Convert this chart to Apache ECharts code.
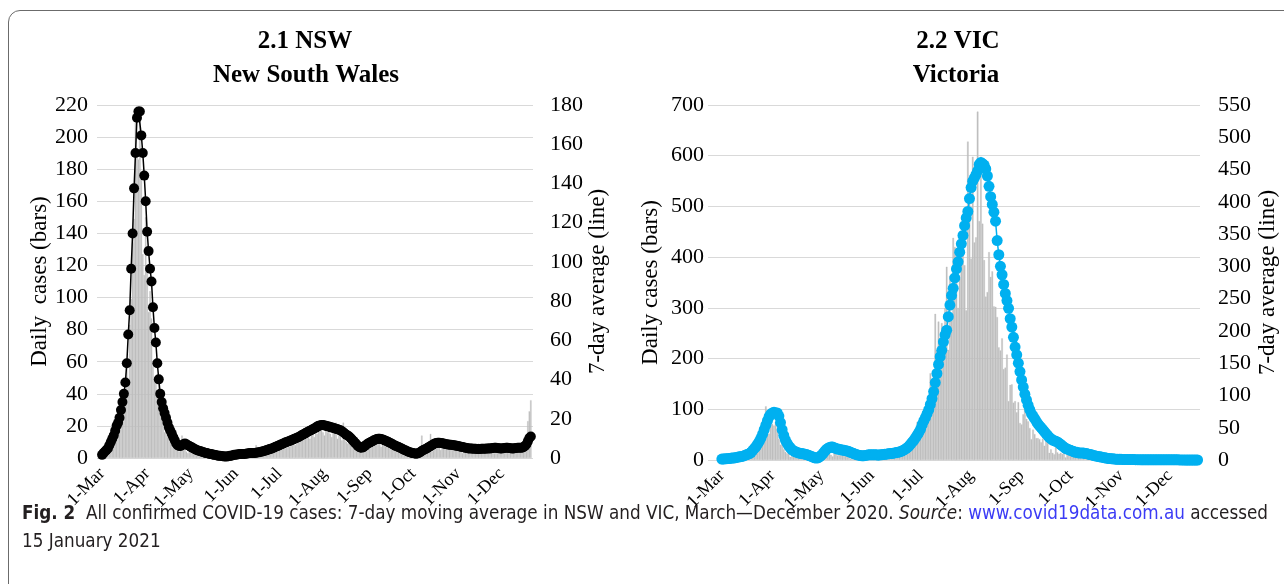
<!DOCTYPE html>
<html>
<head>
<meta charset="utf-8">
<script src="https://cdn.jsdelivr.net/npm/echarts@6/dist/echarts.min.js"></script>
<style>
html,body{margin:0;padding:0;background:#fff;width:1284px;height:584px;overflow:hidden;}
#frame{position:absolute;left:8px;top:10px;width:1320px;height:600px;border:1.5px solid #6b6b6b;border-radius:12px;box-sizing:border-box;}
#chart{position:absolute;left:0;top:0;width:1284px;height:584px;}
#cap{position:absolute;left:22px;top:498px;font-family:'Liberation Sans Narrow','DejaVu Sans Condensed','Noto Sans',sans-serif;font-size:19px;line-height:28px;color:#231f20;white-space:nowrap;}
#cap b{font-weight:bold;}
#cap .lnk{color:#3b3bf5;}
</style>
</head>
<body>
<div id="frame"></div>
<div id="chart"></div>
<div id="cap"><span id="cap1"><b>Fig. 2</b>&nbsp; All confirmed COVID-19 cases: 7-day moving average in NSW and VIC, March—December 2020. <i>Source</i>: <span class="lnk">www.covid19data.com.au</span> accessed</span><br>15 January 2021</div>
<script>
// ---------- DATA (daily from 1 March 2020) ----------
const nswDaily = [
  1,2,3,4,4,6,8,9,12,13,15,20,24,28,34,35,40,62,46,83,99,134,149,211,190,186,212,174,127,114,150,
  116,91,104,87,57,49,48,39,49,35,29,24,16,31,13,18,12,10,9,6,8,6,4,7,14,9,6,4,3,6,
  6,7,5,5,4,5,3,4,2,3,4,2,3,2,2,3,1,2,2,1,1,1,0,1,1,1,1,1,2,1,3,
  2,1,3,2,1,3,2,1,4,2,3,2,3,4,8,3,2,5,3,4,3,4,6,3,5,6,4,8,5,7,
  6,8,7,9,6,10,8,7,13,9,10,8,12,14,10,11,13,15,12,14,16,12,14,16,13,18,15,20,17,19,16,
  14,18,16,18,15,13,17,20,22,12,19,15,11,22,13,10,9,14,12,8,10,7,9,5,4,6,3,7,5,9,8,
  6,10,7,11,9,8,12,10,7,11,9,13,8,7,10,6,9,8,5,7,6,4,7,5,3,6,2,4,3,2,
  1,3,2,4,1,2,14,5,4,6,5,8,15,4,9,8,6,8,10,5,7,12,6,8,9,5,7,8,6,5,9,
  7,5,6,3,8,4,5,6,3,7,4,5,6,3,9,4,5,6,4,3,5,7,4,6,5,3,6,4,7,5,
  5,6,4,7,5,6,4,5,6,3,5,7,4,6,5,4,8,14,23,29,36
];
const nswAverage = [
  1.6,2.5,3.3,4.1,4.9,6.5,8.2,9.8,11.5,13.9,16.4,18,20.5,24.5,28.6,32.7,38.5,48.3,63,75.3,96.5,114.5,137.5,155.5,173.5,176.7,176.7,164.5,155.5,144,130.9,
  115.4,105.5,96.5,90,76.9,66.3,58.9,48.3,40.1,32.7,28.6,25.4,22.9,20.5,18,15.5,13.9,12.3,10.6,9,7.4,6.5,6.1,6.1,6.5,7,7.4,7,6.5,6.1,
  5.7,5.3,4.9,4.5,4.1,3.8,3.6,3.4,3.1,2.9,2.6,2.5,2.3,2.1,2,1.8,1.6,1.5,1.3,1.2,1.1,1,0.9,0.8,0.8,0.8,0.9,1.1,1.2,1.4,1.6,
  1.7,1.8,1.9,2,2,2,2.1,2.2,2.3,2.4,2.5,2.5,2.5,2.6,2.7,2.8,2.9,3.1,3.3,3.4,3.7,3.9,4.2,4.4,4.7,4.9,5.2,5.6,5.9,6.2,
  6.5,6.9,7.2,7.5,7.9,8.2,8.4,8.7,9,9.3,9.7,10,10.3,10.6,11,11.5,11.9,12.3,12.7,13.1,13.5,13.9,14.3,14.7,15.1,15.5,16,16.4,16.6,16.8,16.8,
  16.6,16.4,16.2,16,15.8,15.5,15.4,15.1,14.9,14.7,14.4,14.1,13.6,13.1,12.5,11.9,11.5,11,10.2,9.4,8.6,7.8,7,6.1,5.6,5.2,5.3,5.7,6.3,6.9,7.4,
  7.8,8.2,8.6,9,9.3,9.7,9.8,9.8,9.7,9.4,9.2,8.8,8.5,8.2,7.8,7.4,7,6.5,6.2,5.9,5.6,5.2,4.9,4.5,4.1,3.8,3.4,3.1,2.9,2.6,
  2.5,2.3,2.2,2.3,2.6,3.1,3.6,4.1,4.3,4.7,5.2,5.6,6.1,6.5,7,7.4,7.6,7.8,7.8,7.7,7.5,7.4,7.2,7,6.9,6.8,6.7,6.6,6.5,6.4,6.2,
  6.1,5.9,5.7,5.6,5.4,5.2,5.1,4.9,4.9,4.8,4.7,4.7,4.7,4.6,4.6,4.6,4.7,4.7,4.7,4.7,4.8,4.9,4.9,5,5.1,5.2,5.2,5.1,5,4.9,
  4.9,5,5.1,5.2,5.2,5.1,5,4.9,4.9,5,5.1,5.2,5.2,5.2,5.2,5.6,6.1,7,8.6,10.2,11
];
const vicDaily = [
  0,1,0,1,1,2,1,1,2,3,2,3,4,6,7,9,10,14,17,21,25,30,33,40,51,57,59,106,84,52,96,
  71,68,75,60,42,30,33,21,16,13,24,6,13,10,8,5,4,17,9,3,7,3,6,3,3,1,5,1,10,14,
  14,21,17,17,13,13,10,7,18,28,9,11,9,15,12,14,8,7,3,10,12,8,7,5,9,3,10,9,9,11,8,
  4,9,5,9,7,8,6,7,8,9,8,12,4,12,9,18,21,13,18,25,16,19,17,20,33,30,41,49,75,64,
  73,77,66,95,74,120,171,134,165,288,216,273,177,270,238,300,381,217,363,275,438,420,403,300,357,400,470,384,295,628,520,
  397,598,429,439,687,471,598,466,394,322,331,410,361,372,303,302,282,222,216,240,179,182,208,116,148,149,113,116,94,114,73,
  70,90,113,81,76,63,41,60,51,43,43,41,35,42,28,42,45,14,21,14,11,28,15,12,14,12,16,5,10,15,
  9,8,6,14,12,11,13,11,15,12,10,11,1,3,2,8,4,1,2,1,1,2,1,7,5,0,0,3,0,0,1,
  2,0,0,4,3,0,0,1,0,0,0,0,0,0,0,0,0,0,0,0,0,0,0,0,0,0,0,0,0,0,
  0,0,0,0,0,0,0,0,0,0,0,0,0,0,0,0,0,0
];
const vicAverage = [
  1.5,1.5,2,2,2.5,2.5,3,3,3.5,4,4.5,5,5.5,6,7,8,9,10,12,15,18,21,25,29,34,40,47,54,61,67,71,
  73,74,73,73,68,58,47,38,31,26,22,19,16,14,13,12,11,10.5,10,9.5,9,8.5,7.5,6.5,5.5,4.5,3.5,3,3.5,5,
  7,10,13,16,18,19.5,20,20,19,18,17,16.5,16,15.5,15,14.5,14,13,12,11,10,9,8,7.5,7,6.5,6.5,7,7.5,8,8,
  8,8,8,8,7.5,8,8,8.5,9,9,9.5,10,10,10.5,11,11.5,12,12.5,13.5,14.5,16,17.5,19.5,22,25,28,31,35,39,43,
  48,55,61,66,72,78,86,95,106,120,134,148,160,170,183,194,201,222,240,255,266,282,296,307,322,335,348,363,375,385,405,
  422,432,437,442,448,458,461,459,457,451,440,424,408,396,384,370,340,318,300,287,272,258,247,235,219,206,190,175,163,150,137,
  124,113,102,93,85,78,72,68,64,60,56,53,50,47,44,41,38,35,33,31,30,29,28,26,24,22,20,18,17,16,
  15,14,13,12,12,11,11,11,11,10,10,9,8.5,8,7,6.5,6,5.5,5,4.5,4,3.5,3,2.5,2.2,2,1.8,1.5,1.3,1.1,1,
  1,0.9,0.9,0.8,0.8,0.7,0.7,0.6,0.6,0.5,0.5,0.5,0.4,0.4,0.4,0.4,0.3,0.3,0.3,0.3,0.3,0.3,0.3,0.3,0.3,0.3,0.3,0.3,0.3,0.3,
  0.3,0.3,0.3,0.2,0.2,0.2,0.1,0.1,0.1,0,0,0,0,0,0,0,0,0
];
const dataStart = '2020-03-01';
const monthNames = ['Jan','Feb','Mar','Apr','May','Jun','Jul','Aug','Sep','Oct','Nov','Dec'];
const nswLeftTicks = {min:0, max:220, interval:20};
const nswRightTicks = {min:0, max:180, interval:20};
const vicLeftTicks = {min:0, max:700, interval:100};
const vicRightTicks = {min:0, max:550, interval:50};
const titles = {nsw:['2.1 NSW','New South Wales'], vic:['2.2 VIC','Victoria']};

// ---------- helpers ----------
function buildAxis(axisStart, dataLen, trailing){
  const s = new Date(axisStart + 'T00:00:00Z');
  const d0 = new Date(dataStart + 'T00:00:00Z');
  const lead = Math.round((d0 - s) / 86400000);
  const count = lead + dataLen + trailing;
  const labels = [];
  const d = new Date(s);
  for (let i = 0; i < count; i++) {
    labels.push(d.getUTCDate() + '-' + monthNames[d.getUTCMonth()]);
    d.setUTCDate(d.getUTCDate() + 1);
  }
  return {labels, lead, trailing};
}
function pad(arr, ax){
  return Array(ax.lead).fill('-').concat(arr, Array(ax.trailing).fill('-'));
}
const nswAx = buildAxis('2020-02-27', nswDaily.length, 1);
const vicAx = buildAxis('2020-02-22', vicDaily.length, 1);

const serif = 'Liberation Serif, Times New Roman, serif';
function xAxis(ax, gi){
  return {
    type:'category', gridIndex:gi, data:ax.labels, boundaryGap:true,
    axisLine:{show:false}, axisTick:{show:false},
    axisLabel:{interval:(i,v)=>v.indexOf('1-')===0, rotate:45, margin:13,
      fontFamily:serif, fontSize:18, color:'#000'}
  };
}
function yAxis(gi, t, pos, name, nameGap, margin, split){
  return {
    type:'value', gridIndex:gi, position:pos, min:t.min, max:t.max, interval:t.interval,
    axisLine:{show:false}, axisTick:{show:false},
    splitLine:{show:split, lineStyle:{color:'#d9d9d9', width:1}},
    axisLabel:{fontFamily:serif, fontSize:22, color:'#000', margin:margin},
    name:name, nameLocation:'middle', nameRotate:90, nameGap:nameGap,
    nameTextStyle:{fontFamily:serif, fontSize:23, color:'#000'}
  };
}
function titleText(x, y, txt){
  return {type:'text', x:x, y:y, style:{text:txt, fontFamily:serif, fontSize:25, fontWeight:'bold',
    fill:'#000', textAlign:'center', textVerticalAlign:'middle'}};
}

const chart = echarts.init(document.getElementById('chart'), null, {renderer:'canvas'});
chart.setOption({
  animation:false,
  backgroundColor:'transparent',
  graphic:[
    titleText(305, 42, titles.nsw[0]), titleText(306, 76, titles.nsw[1]),
    titleText(958, 42, titles.vic[0]), titleText(956, 76, titles.vic[1])
  ],
  grid:[
    {left:97, top:105, width:436, height:353, outerBoundsMode:'none', containLabel:false},
    {left:708, top:105, width:492, height:355, outerBoundsMode:'none', containLabel:false}
  ],
  xAxis:[xAxis(nswAx,0), xAxis(vicAx,1)],
  yAxis:[
    yAxis(0, nswLeftTicks, 'left', 'Daily  cases (bars)', 46, 9, true),
    yAxis(0, nswRightTicks, 'right', '7-day average (line)', 53, 17, false),
    yAxis(1, vicLeftTicks, 'left', 'Daily cases (bars)', 46, 4, true),
    yAxis(1, vicRightTicks, 'right', '7-day average (line)', 56, 18, false)
  ],
  series:[
    {type:'bar', xAxisIndex:0, yAxisIndex:0, data:pad(nswDaily, nswAx), barCategoryGap:'0%',
      itemStyle:{color:'#bfbfbf', borderColor:'#bfbfbf', borderWidth:0.3}, z:1},
    {type:'line', xAxisIndex:0, yAxisIndex:1, data:pad(nswAverage, nswAx), symbol:'circle', symbolSize:10,
      showSymbol:true, showAllSymbol:true, lineStyle:{color:'#000', width:1.5}, itemStyle:{color:'#000'}, z:3},
    {type:'bar', xAxisIndex:1, yAxisIndex:2, data:pad(vicDaily, vicAx), barCategoryGap:'0%',
      itemStyle:{color:'#bfbfbf', borderColor:'#bfbfbf', borderWidth:0.3}, z:1},
    {type:'line', xAxisIndex:1, yAxisIndex:3, data:pad(vicAverage, vicAx), symbol:'circle', symbolSize:11,
      showSymbol:true, showAllSymbol:true, lineStyle:{color:'#00b0f0', width:1.5}, itemStyle:{color:'#00b0f0'}, z:3}
  ]
});
// fit caption's first line to the reference width
const c1 = document.getElementById('cap1');
const w = c1.getBoundingClientRect().width;
const cap = document.getElementById('cap');
cap.style.transformOrigin = '0 0';
cap.style.transform = 'scaleX(' + (1246 / w) + ')';
</script>
</body>
</html>
